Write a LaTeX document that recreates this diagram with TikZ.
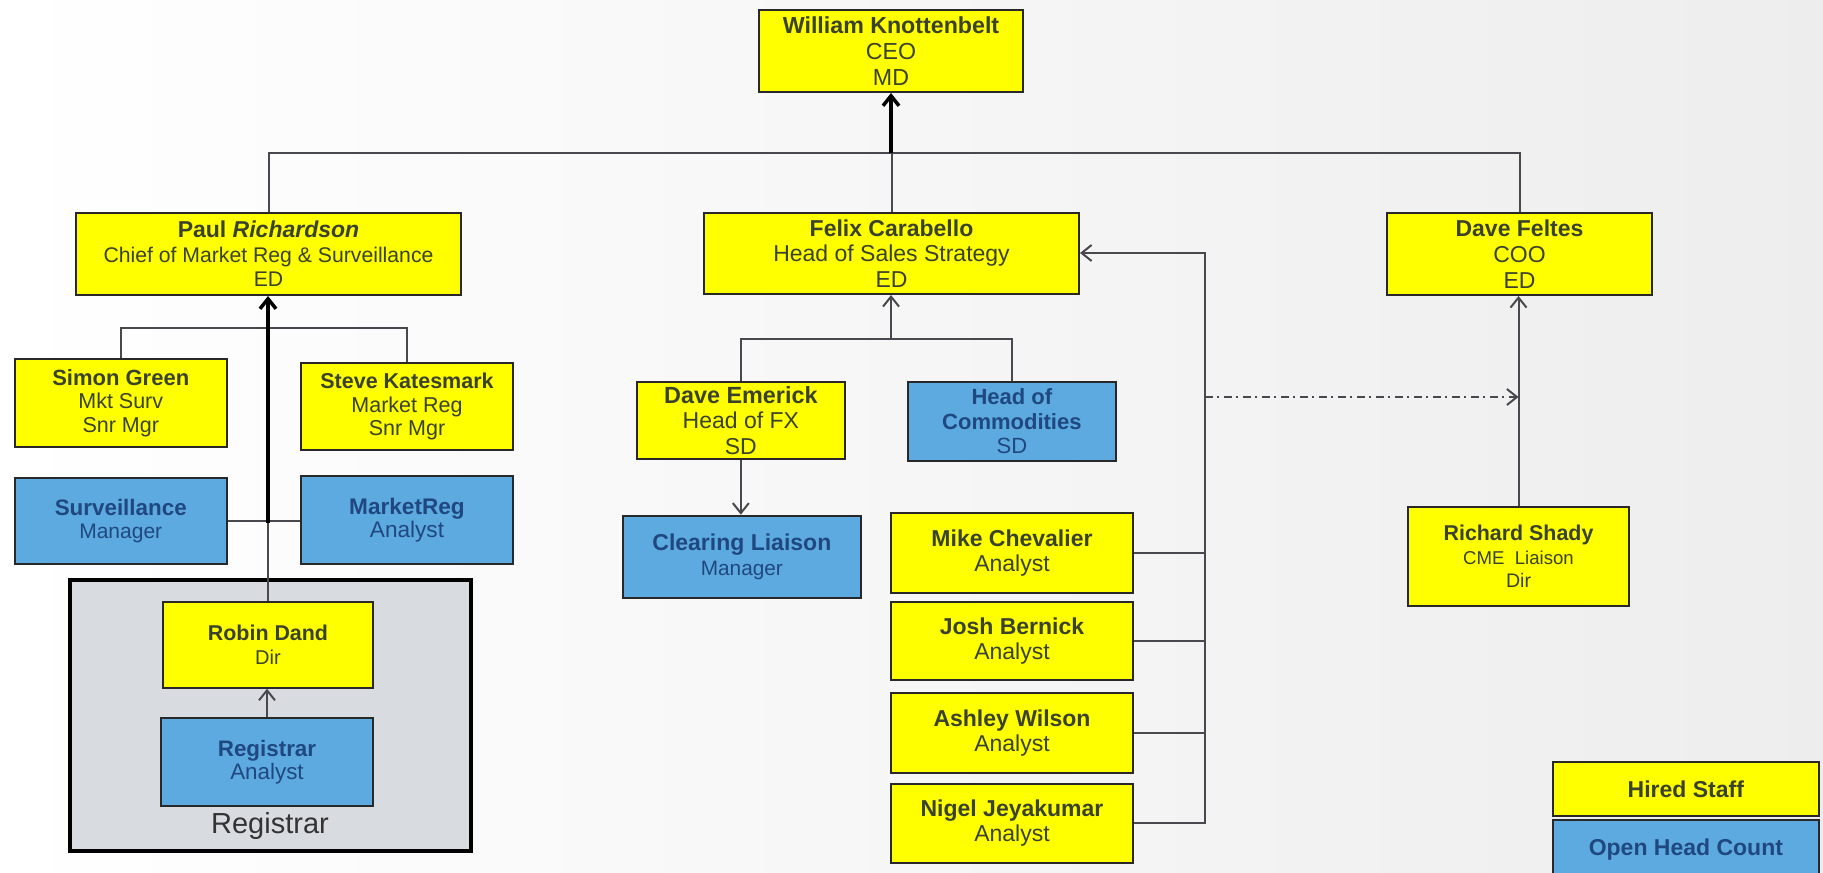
\documentclass[tikz,border=0pt]{standalone}
\usepackage{fontspec}
\setmainfont{Liberation Sans}
\usetikzlibrary{arrows.meta}

\definecolor{staffyellow}{RGB}{255,255,0}
\definecolor{openblue}{RGB}{93,170,224}
\definecolor{staffink}{RGB}{58,66,44}
\definecolor{openink}{RGB}{32,72,128}
\definecolor{boxline}{RGB}{40,40,40}
\definecolor{linkgrey}{RGB}{72,72,78}
\definecolor{regfill}{RGB}{216,220,224}

\newcommand{\boxfont}[2]{\fontsize{#1}{#2}\selectfont}
\newcommand{\staffname}[2][11.5]{{\fontsize{#1}{12}\selectfont\bfseries #2}}

\tikzset{every picture/.style={line width=1pt}}
\tikzset{
  hired/.style={draw=boxline, fill=staffyellow, text=staffink, align=center, inner sep=0pt, line width=1pt},
  openhc/.style={draw=boxline, fill=openblue, text=openink, align=center, inner sep=0pt, line width=1pt},
  link/.style={draw=linkgrey, line width=1pt},
  boss/.style={draw=black, line width=1.75pt},
  tip/.style={-{Straight Barb[length=5pt,width=8pt]}},
  dotdash/.style={dash pattern=on 4pt off 2pt on 1pt off 2.5pt}
}

\begin{document}
\begin{tikzpicture}[x=0.5pt,y=0.5pt,yscale=-1]
	\clip (0,0) rectangle (1823,872);
	%Background
	\shade[left color=white, right color=black!7] (0,0) rectangle (1823,872);

	%Shape: Registrar unit
	\node[draw=black, line width=2.25pt, fill=regfill, minimum width=200.5pt, minimum height=135.5pt] (regunit) at (270.5,715.5) {};
	% Text Node
	\node[text=black!80, font=\boxfont{14.5}{16}] (reglabel) at (270,826) {Registrar};

	% Text Node
	\node[hired, minimum width=132pt, minimum height=41pt, font=\boxfont{11.6}{12.9}] (ceo) at (891,51) {\textbf{William Knottenbelt}\\CEO\\MD};
	% Text Node
	\node[hired, minimum width=192.5pt, minimum height=41pt, font=\boxfont{10.6}{12.2}] (paul) at (268.5,254) {\staffname{Paul \textit{Richardson}}\\Chief of Market Reg \& Surveillance\\ED};
	% Text Node
	\node[hired, minimum width=187.5pt, minimum height=40.5pt, font=\boxfont{11.5}{12.75}] (felix) at (891.5,253.5) {\textbf{Felix Carabello}\\Head of Sales Strategy\\ED};
	% Text Node
	\node[hired, minimum width=132.5pt, minimum height=41pt, font=\boxfont{11.5}{13}] (feltes) at (1519.5,254) {\textbf{Dave Feltes}\\COO\\ED};

	% Text Node
	\node[hired, minimum width=106.25pt, minimum height=44pt, font=\boxfont{10.75}{11.7}] (simon) at (120.75,403) {\staffname[11]{Simon Green}\\Mkt Surv\\Snr Mgr};
	% Text Node
	\node[hired, minimum width=106pt, minimum height=43.5pt, font=\boxfont{10.75}{11.7}] (steve) at (407,406.5) {\textbf{Steve Katesmark}\\Market Reg\\Snr Mgr};
	% Text Node
	\node[openhc, minimum width=106.25pt, minimum height=43.15pt, font=\boxfont{10.5}{11.7}] (surv) at (120.75,520.8) {\staffname[11.2]{Surveillance}\\Manager};
	% Text Node
	\node[openhc, minimum width=106pt, minimum height=44pt, font=\boxfont{11.3}{11.7}] (mreg) at (407,520) {\textbf{MarketReg}\\Analyst};
	% Text Node
	\node[hired, minimum width=105pt, minimum height=43pt, font=\boxfont{10}{11.7}] (robin) at (268,644.7) {\staffname[10.7]{Robin Dand}\\Dir};
	% Text Node
	\node[openhc, minimum width=106pt, minimum height=43.85pt, font=\boxfont{11.2}{11.4}] (regan) at (267,761.85) {\textbf{Registrar}\\Analyst};

	% Text Node
	\node[hired, minimum width=104.15pt, minimum height=38.65pt, font=\boxfont{11.5}{12.8}] (emerick) at (740.85,420.35) {\staffname[11.7]{Dave Emerick}\\Head of FX\\SD};
	% Text Node
	\node[openhc, minimum width=103.85pt, minimum height=39.65pt, font=\boxfont{11}{12.2}] (commod) at (1011.85,421.35) {\textbf{Head of}\\\textbf{Commodities}\\SD};
	% Text Node
	\node[openhc, minimum width=119.15pt, minimum height=41pt, font=\boxfont{10.4}{12.5}] (clearing) at (741.85,556.7) {\staffname{Clearing Liaison}\\Manager};

	% Text Node
	\node[hired, minimum width=121pt, minimum height=40pt, font=\boxfont{11.5}{12.5}] (mike) at (1012,552.7) {\textbf{Mike Chevalier}\\Analyst};
	% Text Node
	\node[hired, minimum width=121pt, minimum height=39.15pt, font=\boxfont{11.5}{12.5}] (josh) at (1012,640.85) {\textbf{Josh Bernick}\\Analyst};
	% Text Node
	\node[hired, minimum width=121pt, minimum height=40pt, font=\boxfont{11.5}{12.5}] (ashley) at (1012,733.3) {\textbf{Ashley Wilson}\\Analyst};
	% Text Node
	\node[hired, minimum width=121pt, minimum height=39.35pt, font=\boxfont{11.5}{12.5}] (nigel) at (1012,823.3) {\textbf{Nigel Jeyakumar}\\Analyst};

	% Text Node
	\node[hired, minimum width=110.5pt, minimum height=49.65pt, font=\boxfont{9.8}{11.7}] (shady) at (1518.5,556.35) {\staffname[10.7]{Richard Shady}\\{\fontsize{9.3}{11}\selectfont CME\ \ Liaison}\\Dir};

	% Text Node
	\node[hired, minimum width=133.15pt, minimum height=27pt, font=\boxfont{11.5}{12.5}] (hiredkey) at (1685.85,789) {\textbf{Hired Staff}};
	% Text Node
	\node[openhc, minimum width=133.15pt, minimum height=30pt, font=\boxfont{11.5}{12.5}] (openkey) at (1685.85,850) {\textbf{Open Head Count}};

	%Junctions
	\coordinate (topbar) at (891,153);
	\coordinate (paulbar) at (268,328);
	\coordinate (survbar) at (268,523);
	\coordinate (felixbar) at (891,339);
	\coordinate (analystbus) at (1205,253);
	\coordinate (liaisonstart) at (1205,397);

	%Straight Lines
	\draw[link] (paul.north) |- (topbar) -| (feltes.north);
	\draw[link] (felix.north) -- (felix.north |- topbar);
	\draw[boss, tip] (topbar) -- (ceo.south);

	\draw[link] (simon.north) |- (paulbar) -| (steve.north);
	\draw[link] (surv.east) -- (surv.east -| mreg.west);
	\draw[link] (robin.north) -- (robin.north |- survbar);
	\draw[boss, tip] (robin.north |- survbar) -- (robin.north |- paul.south);
	\draw[link, tip] (regan.north) -- (regan.north |- robin.south);

	\draw[link] (emerick.north) |- (felixbar) -| (commod.north);
	\draw[link, tip] (felixbar) -- (felixbar |- felix.south);
	\draw[link, tip] (emerick.south) -- (emerick.south |- clearing.north);

	\draw[link, tip] (nigel.east) -| (analystbus) -- (analystbus -| felix.east);
	\foreach \who in {mike,josh,ashley}
		\draw[link] (\who.east) -- (\who.east -| analystbus);
	\draw[link, dotdash, tip] (liaisonstart) -- (liaisonstart -| shady.north);
	\draw[link, tip] (shady.north) -- (shady.north |- feltes.south);
\end{tikzpicture}
\end{document}
